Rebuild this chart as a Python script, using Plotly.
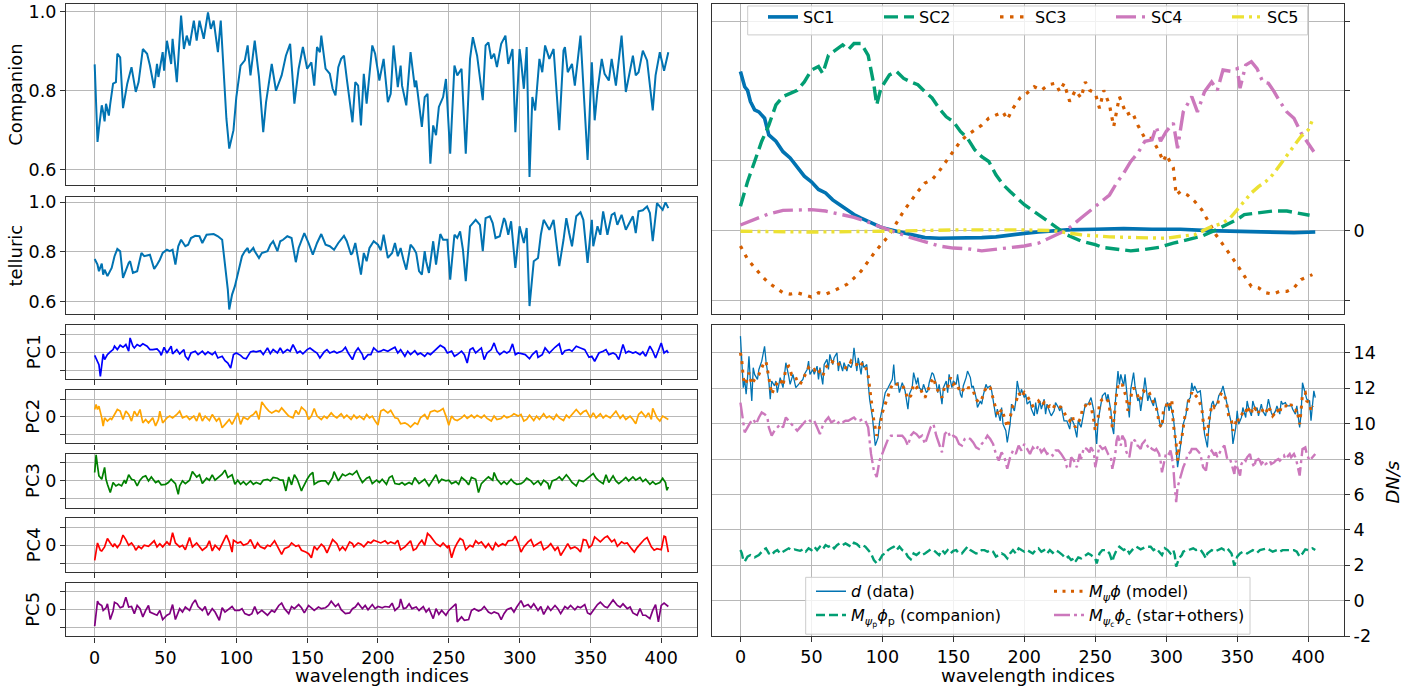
import plotly.graph_objects as go

# ---------------- data ----------------
companion_idx = [0,2,3,5,6,7,8,10,11,13,15,16,18,20,23,26,29,31,34,37,39,42,44,45,48,49,51,54,55,58,61,63,65,67,70,72,74,77,80,82,84,87,89,91,93,95,98,100,103,106,108,110,113,116,119,121,125,128,132,135,138,141,144,147,150,153,155,157,159,160,163,166,168,170,172,174,176,178,182,184,186,188,190,192,196,198,201,204,207,209,211,214,216,217,220,223,226,227,229,231,233,235,237,239,241,243,246,248,251,254,256,259,262,265,267,270,274,276,278,280,282,284,287,290,292,295,297,300,301,303,305,307,309,311,314,316,318,321,324,328,331,332,334,337,339,343,348,351,353,355,358,360,363,365,368,372,375,380,382,384,387,390,394,396,399,402,405]
companion_val = [0.867,0.670,0.704,0.763,0.746,0.722,0.767,0.737,0.767,0.818,0.822,0.894,0.885,0.756,0.818,0.860,0.797,0.822,0.906,0.894,0.864,0.807,0.868,0.835,0.898,0.851,0.927,0.868,0.932,0.822,0.991,0.906,0.940,0.915,0.978,0.927,0.978,0.932,0.999,0.957,0.978,0.898,0.978,0.839,0.729,0.653,0.700,0.784,0.864,0.877,0.915,0.839,0.927,0.835,0.695,0.771,0.868,0.800,0.839,0.889,0.919,0.767,0.856,0.911,0.856,0.872,0.813,0.911,0.898,0.940,0.856,0.843,0.805,0.788,0.860,0.881,0.889,0.830,0.720,0.822,0.813,0.712,0.843,0.767,0.915,0.894,0.826,0.881,0.771,0.792,0.915,0.809,0.864,0.813,0.763,0.898,0.809,0.826,0.759,0.708,0.784,0.792,0.615,0.712,0.687,0.759,0.784,0.830,0.640,0.864,0.839,0.856,0.640,0.881,0.936,0.889,0.776,0.915,0.923,0.881,0.894,0.860,0.919,0.940,0.868,0.906,0.695,0.906,0.877,0.805,0.911,0.581,0.784,0.750,0.881,0.847,0.915,0.881,0.906,0.700,0.902,0.911,0.847,0.868,0.813,0.940,0.624,0.872,0.725,0.800,0.881,0.843,0.826,0.881,0.813,0.940,0.797,0.889,0.839,0.847,0.902,0.877,0.750,0.839,0.898,0.851,0.898]

telluric_idx = [0,2,3,5,6,7,9,10,12,14,16,18,20,24,25,27,30,33,35,39,42,44,46,48,51,53,55,57,59,61,64,66,68,71,74,76,79,84,87,90,92,94,95,97,99,101,104,106,108,109,112,113,116,118,122,124,126,129,131,133,136,139,142,144,148,151,154,157,160,163,166,169,172,176,178,181,182,184,186,188,190,192,194,197,200,202,204,207,210,212,214,216,218,220,223,225,227,229,231,233,234,236,239,241,244,246,249,251,254,256,258,260,262,265,269,272,274,276,279,281,283,286,289,290,292,294,297,300,303,305,307,310,313,315,317,321,324,328,331,333,335,337,340,343,345,348,351,352,355,357,359,362,365,367,369,372,375,377,380,382,384,387,390,392,394,397,401,403,405]
telluric_val = [0.772,0.749,0.723,0.753,0.709,0.729,0.703,0.716,0.736,0.783,0.812,0.803,0.696,0.756,0.763,0.716,0.723,0.796,0.783,0.789,0.732,0.749,0.769,0.796,0.809,0.803,0.809,0.749,0.823,0.849,0.823,0.829,0.856,0.865,0.863,0.836,0.869,0.872,0.863,0.849,0.749,0.649,0.569,0.629,0.663,0.709,0.783,0.803,0.816,0.796,0.816,0.803,0.776,0.796,0.803,0.829,0.843,0.803,0.843,0.849,0.863,0.856,0.759,0.816,0.876,0.836,0.789,0.836,0.872,0.829,0.823,0.809,0.836,0.865,0.843,0.789,0.796,0.836,0.776,0.709,0.796,0.763,0.816,0.843,0.829,0.807,0.869,0.776,0.796,0.836,0.783,0.816,0.769,0.729,0.829,0.816,0.796,0.723,0.709,0.803,0.763,0.716,0.843,0.749,0.872,0.849,0.849,0.689,0.869,0.856,0.883,0.809,0.683,0.903,0.929,0.909,0.803,0.936,0.943,0.916,0.856,0.863,0.936,0.923,0.869,0.923,0.736,0.903,0.836,0.896,0.583,0.763,0.776,0.869,0.929,0.889,0.929,0.743,0.849,0.936,0.876,0.823,0.943,0.959,0.929,0.756,0.929,0.823,0.903,0.869,0.963,0.869,0.949,0.956,0.909,0.949,0.889,0.909,0.943,0.876,0.963,0.967,0.983,0.956,0.843,0.996,0.969,0.999,0.976]

pc1_idx = [0,1,3,4,5,6,7,9,11,13,14,16,18,20,22,24,25,27,28,30,32,34,37,39,41,44,46,47,49,51,54,55,58,60,63,64,66,68,71,73,76,78,80,83,85,87,90,92,94,96,98,100,103,105,107,110,112,114,117,119,122,124,126,129,131,133,136,138,140,143,145,147,150,152,155,157,159,162,164,166,169,171,173,175,177,179,182,184,186,189,190,193,195,197,200,202,204,207,209,212,214,216,219,221,223,226,228,230,233,235,237,240,242,244,247,249,252,254,256,259,261,263,265,267,269,272,273,275,277,280,282,284,286,289,291,293,295,297,299,302,304,307,309,312,313,316,318,321,323,325,328,330,332,335,337,340,343,346,349,351,353,356,359,361,363,366,368,370,373,375,377,380,382,385,387,389,392,394,396,398,400,402,404,405]
pc1_val = [-0.17,-0.32,-0.69,-1.35,-0.5,-0.09,-0.41,-0.13,0.02,0.15,0.34,0.15,0.39,0.28,0.43,0.06,0.8,0.34,0.24,0.43,0.34,0.47,0.34,0.15,0.15,0.19,0.02,-0.17,0.28,-0.04,0.34,-0.09,0.15,-0.09,0.15,-0.22,-0.41,-0.04,0.06,-0.13,0.06,-0.13,0.02,-0.13,0.02,-0.32,-0.22,-0.47,-0.6,-0.88,-0.13,-0.04,-0.17,-0.32,-0.36,0.02,0.06,0.02,0.09,-0.13,0.24,-0.07,0.15,-0.04,0.24,-0.04,0.15,0.06,0.43,-0.04,0.06,-0.09,0.15,0.24,0.06,-0.04,-0.32,0.02,0.15,-0.04,0.06,-0.04,0.02,0.09,0.28,-0.04,-0.41,0.02,0.24,-0.13,-0.41,-0.13,-0.13,0.24,0.02,0.06,0.15,0.06,0.15,0.28,-0.04,0.15,-0.22,0.06,-0.13,0.09,-0.13,-0.04,-0.22,-0.04,-0.13,0.09,0.24,0.39,0.24,-0.04,0.06,-0.22,-0.13,0.06,-0.13,-0.6,0.15,0.24,-0.04,0.15,0.24,-0.41,-0.04,0.15,0.52,0.06,-0.13,0.06,-0.04,0.06,0.47,-0.13,-0.04,-0.09,-0.13,-0.36,-0.13,0.09,-0.28,-0.13,0.24,-0.04,0.15,0.28,0.47,-0.13,0.09,0.15,0.06,0.34,0.24,0.15,-0.28,-0.22,-0.5,-0.04,0.06,0.15,-0.13,-0.04,-0.13,-0.41,0.43,-0.04,0.06,-0.04,0.02,-0.13,0.02,-0.22,0.34,0.06,-0.32,0.06,0.52,-0.04,0.09,-0.04]

pc2_idx = [0,1,2,3,5,6,7,9,11,12,14,16,18,20,22,24,26,28,30,32,34,36,38,41,43,45,46,48,51,53,55,58,60,62,65,67,70,72,74,76,78,81,83,86,88,90,93,95,97,100,101,103,105,108,110,112,114,116,118,121,123,125,128,130,132,135,137,140,142,144,146,149,151,153,155,157,160,162,164,167,169,171,174,176,178,181,183,185,187,190,192,194,196,198,200,202,204,207,209,212,214,216,219,221,223,226,228,230,233,235,237,240,242,244,246,248,250,252,254,256,259,261,263,266,268,270,273,275,277,280,282,284,287,289,291,294,296,299,301,303,305,307,310,312,314,317,319,321,324,326,328,331,333,335,338,340,343,345,347,350,352,354,357,359,361,364,366,368,371,373,375,378,380,382,384,386,389,391,393,394,397,399,401,403,405]
pc2_val = [0.41,0.69,0.41,0.6,-0.06,-0.52,-0.06,-0.24,-0.09,-0.15,0.13,0.41,0.32,-0.15,0.32,0.13,-0.24,0.32,0.04,0.41,-0.34,-0.15,-0.34,-0.06,-0.52,-0.15,0.32,-0.34,-0.06,0.04,-0.06,0.13,0.32,-0.06,0.04,-0.15,0.04,-0.24,0.22,-0.24,0.04,-0.21,0.13,-0.24,-0.06,-0.62,-0.34,-0.15,-0.43,0.13,0.22,-0.43,-0.02,-0.15,0.04,0.13,0.32,-0.15,0.84,0.5,0.32,0.22,0.36,0.28,0.5,0.22,0.04,-0.06,0.36,0.13,0.54,0.32,-0.15,0.04,0.47,0.04,-0.15,0.04,-0.09,0.22,0.04,-0.06,0.17,-0.06,0.09,-0.15,0.09,-0.09,0.04,-0.15,0.13,-0.06,0.04,-0.24,-0.47,0.32,0.41,0.22,0.36,-0.06,-0.09,-0.39,-0.34,-0.43,-0.58,-0.34,-0.43,-0.06,0.13,-0.15,0.28,0.36,0.28,0.36,0.47,0.04,-0.47,0.04,-0.15,-0.21,-0.06,0.09,-0.09,0.09,-0.06,0.09,-0.06,0.09,-0.09,-0.24,0.04,-0.15,-0.09,0.07,-0.06,0.04,0.17,0.04,0.13,-0.24,-0.15,0.09,-0.21,0.04,-0.15,0.17,-0.06,0.04,-0.15,0.13,-0.06,-0.21,0.09,-0.06,0.22,0.41,0.13,0.28,0.36,-0.06,0.22,-0.06,0.17,-0.06,0.09,-0.06,0.13,0.32,-0.09,0.09,-0.15,0.04,-0.15,-0.39,0.13,0.28,-0.02,0.22,-0.15,0.47,-0.06,-0.24,0.04,-0.06,-0.15]

pc3_idx = [0,1,2,3,4,5,7,8,9,10,11,13,15,17,19,21,22,24,26,28,30,32,34,36,38,40,43,45,47,50,52,54,57,59,60,62,64,67,69,72,74,76,79,81,83,85,87,90,92,94,97,99,101,103,105,107,110,112,114,117,119,122,124,126,129,131,133,135,137,139,141,143,146,147,150,152,154,155,158,160,163,165,168,169,172,174,175,177,180,182,185,187,189,192,194,196,199,201,203,206,208,210,212,215,217,219,222,224,226,229,231,233,236,238,241,243,245,248,250,252,255,257,259,262,264,266,269,271,273,276,278,281,282,284,287,289,291,294,296,298,301,303,305,308,310,313,315,317,320,321,323,326,328,330,333,335,337,340,342,345,347,349,352,354,356,359,361,363,366,368,370,373,375,377,380,382,385,387,389,392,394,396,399,401,403,404,405]
pc3_val = [0.47,1.45,0.84,0.28,0.19,0.09,0.75,0.09,-0.19,-0.37,-0.65,-0.09,-0.28,-0.19,-0.28,0.04,-0.15,0.34,0.09,0.04,-0.28,0.04,0.22,0.28,0,0.22,-0.09,0,-0.22,-0.19,-0.09,0.09,-0.15,-0.75,-0.28,0,-0.15,0.04,0.52,0.22,0.34,-0.15,0.15,0.04,0.34,0.04,0.19,0.37,0.6,0.19,0.34,-0.19,0.04,-0.19,-0.04,-0.22,0,-0.19,-0.09,-0.19,0.04,0.09,0,0.19,0.15,0.04,0.04,-0.56,0.22,-0.22,0.34,0.09,-0.56,-0.37,0.09,0.34,0.47,-0.19,-0.04,0,0,-0.19,0.19,0.52,0,0.28,0.37,0.28,0.41,0.34,0.56,0.19,-0.09,0.15,0.22,-0.15,0.04,-0.09,0.09,-0.19,0.19,0.28,-0.15,-0.19,-0.09,-0.22,-0.09,-0.19,0.19,-0.15,-0.04,0.09,-0.28,0,0.34,-0.09,0.09,0,0.04,-0.15,-0.04,-0.19,0.19,0,-0.22,0.19,0.09,-0.65,-0.15,0.09,0.22,0.04,0.47,0.09,-0.19,-0.04,-0.19,0.09,-0.09,-0.19,-0.15,-0.04,0.15,0,-0.19,0,-0.22,0.04,-0.15,-0.47,0,0.09,0.22,0.04,0.34,0.15,-0.09,-0.28,0.04,-0.04,0.09,0.19,0.41,0.15,0,-0.15,0.34,-0.09,0.28,0,-0.15,0.04,0.19,0,0.22,0.04,0.19,-0.04,0.09,-0.19,-0.04,-0.19,-0.09,0.15,-0.09,-0.52,-0.34]

pc4_idx = [0,1,2,4,5,7,9,11,13,14,16,18,20,22,24,26,28,29,31,33,35,38,40,42,44,46,48,51,53,55,57,60,62,64,67,69,72,74,76,79,81,83,85,88,90,93,95,97,98,101,103,105,108,110,113,115,117,120,122,124,127,129,132,134,137,139,142,144,146,149,151,153,155,157,160,162,164,166,168,171,173,175,177,180,182,183,186,188,190,193,195,197,200,202,205,207,209,212,214,216,219,221,223,225,227,229,231,233,235,237,239,241,244,246,249,250,252,254,256,258,260,262,265,267,269,271,273,276,278,281,283,285,288,290,292,295,297,299,301,303,306,308,310,313,315,317,320,322,325,327,329,332,334,336,339,341,343,345,347,349,351,353,355,357,360,362,365,367,369,372,374,376,379,381,383,386,388,390,393,395,397,400,402,403,405]
pc4_val = [-0.85,-0.28,0.13,-0.28,-0.32,-0.09,0.38,0.13,-0.09,0.09,-0.13,0.09,0.57,0.32,0,0.13,-0.09,-0.28,-0.06,-0.19,0,-0.06,0.09,0.25,-0.09,0.09,-0.09,0.19,0,0.7,0.13,-0.09,0,-0.25,0.43,-0.09,0.13,-0.09,-0.28,-0.09,0.25,-0.32,0,-0.25,0.09,0.57,0.19,-0.38,0.28,0.13,0.19,0,0.09,0.32,-0.19,0.13,-0.09,-0.19,0,-0.06,0.25,-0.09,-0.51,-0.19,-0.09,0.13,-0.06,0,-0.28,-0.38,-0.47,-0.7,-0.06,-0.25,0.06,-0.09,-0.43,-0.06,0.32,0.09,-0.28,-0.09,-0.28,0.19,0.09,-0.09,0.13,0.06,-0.09,0.19,0.13,0.28,0.19,0.13,0.25,0.09,0.19,0.09,0.28,-0.25,-0.09,0.09,0.25,-0.28,-0.19,0.09,0.28,0,0.66,0.51,0.28,0.09,-0.06,0.13,-0.13,0,-0.7,-0.19,0.13,0.38,0.28,-0.25,0,-0.09,0.25,0.09,0.19,-0.13,0.09,-0.28,0.13,-0.06,0.09,0,0.25,0.28,0.51,0.13,-0.38,-0.09,0.19,0.32,-0.06,0.09,0.19,-0.25,-0.09,0.09,-0.28,-0.09,-0.57,-0.19,0.09,-0.19,-0.09,-0.19,-0.38,0.32,0.28,-0.13,0,0.47,0.32,0.19,0.43,0.51,0.19,0.32,-0.06,0.19,0.09,0.13,-0.19,-0.38,-0.13,0.13,0.32,0.43,-0.09,-0.28,-0.19,-0.25,0.51,0.47,-0.38]

pc5_idx = [0,1,2,3,5,6,8,9,11,13,14,16,18,20,22,24,26,28,30,32,34,36,38,39,41,44,46,48,51,53,55,57,60,62,64,67,69,71,73,76,78,80,83,85,88,90,92,95,97,99,102,104,106,109,111,113,115,118,120,122,125,127,130,132,134,137,139,141,144,146,148,151,153,155,158,160,163,165,167,170,172,174,177,180,182,184,186,189,191,193,196,198,200,203,205,208,210,212,215,216,218,220,222,224,227,229,232,234,236,239,241,243,245,248,250,252,255,256,259,261,264,266,268,271,273,275,278,280,282,285,287,289,291,294,296,298,301,303,306,308,310,313,315,317,320,322,325,327,329,332,334,336,339,341,343,346,348,350,353,355,357,360,362,365,366,369,371,373,376,378,380,383,385,387,389,392,394,396,398,400,402,405]
pc5_val = [-0.92,-0.22,0.48,0.33,0.24,-0.04,0.11,0.33,-0.55,-0.07,0.42,0.33,0.11,0.18,0.7,0.15,0.18,-0.22,0.24,0.06,-0.4,-0.04,0.24,-0.13,-0.22,-0.31,-0.04,-0.55,-0.31,-0.22,0.29,-0.55,0.06,-0.13,0.15,-0.04,0.33,0.55,0.18,-0.04,0.18,-0.31,0.06,-0.13,-0.59,0.11,-0.13,0.06,0.18,-0.04,-0.04,0.06,-0.22,-0.31,-0.22,0.18,-0.22,-0.04,-0.18,-0.31,-0.04,-0.13,0.24,0.37,0.06,-0.22,0.18,0.06,0.29,0.11,-0.18,0.24,0.11,-0.04,0.15,0.06,0.11,0.24,0.48,0.18,0.33,0,-0.22,-0.18,0.06,0.15,0.37,0.06,0.24,0,0.29,0.06,0.18,0.11,0.18,0.15,0.37,-0.04,0.18,0.61,0.06,0.11,0.33,0.06,0.15,-0.04,0.18,-0.13,0.06,-0.5,0.06,-0.26,-0.04,-0.31,-0.04,0.11,0.33,-0.68,-0.4,-0.59,-0.55,-0.04,0.06,-0.07,0,0.18,-0.13,-0.22,-0.13,-0.22,-0.55,-0.22,0,0.11,-0.13,0.15,0.51,0.18,0.29,0.11,0.33,-0.04,0.18,-0.26,0.18,-0.04,0.24,0.06,-0.22,0.18,0.06,0.24,0,0.18,0.11,0.29,-0.18,-0.26,0.06,0.29,0.42,0.18,0.11,0.42,0.55,0.24,0.15,0.33,0.06,0.15,-0.18,-0.31,0.06,-0.31,-0.31,-0.5,-0.04,0.29,-0.68,0.24,0.37,0.18]

# spectral components (arbitrary units, ticks every 1 unit, only 0 labelled)
sc1_idx = [0,3,5,7,10,13,17,20,25,30,35,40,45,50,55,60,65,70,75,80,85,90,95,100,110,120,130,140,150,160,170,180,190,200,210,220,230,250,270,290,310,330,350,370,390,405]
sc1_val = [2.28,2.06,2.01,1.85,1.73,1.70,1.61,1.37,1.28,1.13,1.04,0.90,0.78,0.70,0.59,0.54,0.44,0.37,0.30,0.23,0.18,0.13,0.08,0.04,-0.01,-0.06,-0.10,-0.11,-0.11,-0.11,-0.10,-0.09,-0.06,-0.04,-0.02,0.0,0.01,0.02,0.03,0.02,0.02,0.0,-0.01,-0.02,-0.03,-0.02]
sc2_idx = [0,5,10,15,20,25,30,35,40,45,50,55,58,62,67,72,76,80,85,90,94,96,99,105,110,115,120,125,130,135,140,145,150,155,160,165,170,175,180,185,190,195,200,210,220,230,240,250,255,265,275,285,295,305,315,325,335,345,350,355,365,375,385,395,401]
sc2_val = [0.35,0.70,0.99,1.28,1.51,1.80,1.92,1.97,2.01,2.13,2.30,2.35,2.25,2.51,2.59,2.66,2.59,2.68,2.68,2.51,2.09,1.80,2.04,2.23,2.28,2.18,2.13,2.09,1.99,1.90,1.75,1.63,1.56,1.42,1.32,1.16,1.06,0.99,0.80,0.66,0.56,0.47,0.37,0.23,0.09,-0.06,-0.15,-0.20,-0.24,-0.27,-0.29,-0.27,-0.24,-0.18,-0.13,-0.08,0.01,0.11,0.16,0.23,0.25,0.28,0.28,0.25,0.22]
sc3_idx = [0,5,10,15,20,25,30,35,40,45,50,55,60,65,70,75,80,85,90,95,100,105,110,115,120,125,130,135,140,145,150,155,160,165,170,175,180,185,188,192,197,202,207,212,217,222,225,228,232,236,240,243,246,250,253,256,260,263,267,272,276,280,285,290,295,298,300,305,307,310,315,320,325,330,335,340,345,350,355,360,365,370,375,380,385,390,395,400,403]
sc3_val = [-0.22,-0.41,-0.53,-0.65,-0.75,-0.82,-0.89,-0.91,-0.89,-0.92,-0.95,-0.89,-0.91,-0.87,-0.82,-0.77,-0.68,-0.58,-0.44,-0.30,-0.18,-0.06,0.11,0.28,0.42,0.56,0.68,0.73,0.85,0.99,1.13,1.28,1.37,1.44,1.51,1.61,1.66,1.70,1.59,1.75,1.90,1.97,2.06,2.01,2.09,2.11,1.99,2.11,1.85,2.01,1.90,2.13,2.01,1.97,1.75,2.01,1.80,1.49,1.92,1.66,1.70,1.51,1.32,1.32,1.13,0.99,1.09,0.90,0.51,0.56,0.51,0.42,0.30,0.11,-0.06,-0.20,-0.34,-0.49,-0.65,-0.80,-0.82,-0.89,-0.91,-0.87,-0.87,-0.82,-0.70,-0.65,-0.63]
sc4_idx = [0,10,20,30,40,50,60,70,80,90,100,110,120,130,140,150,160,170,180,190,200,210,220,230,240,250,255,260,265,270,275,280,285,290,293,296,300,305,308,312,318,322,327,332,336,340,346,350,352,356,360,364,368,372,376,380,385,390,395,400,404]
sc4_val = [0.08,0.16,0.24,0.29,0.30,0.30,0.28,0.24,0.19,0.12,0.04,-0.03,-0.10,-0.16,-0.22,-0.25,-0.26,-0.29,-0.27,-0.25,-0.22,-0.18,-0.08,0.01,0.18,0.35,0.44,0.51,0.68,0.82,0.99,1.11,1.28,1.30,1.49,1.28,1.42,1.54,1.18,1.70,1.92,1.70,1.99,2.13,2.01,2.30,2.28,2.32,2.04,2.37,2.42,2.32,2.13,2.11,1.99,1.85,1.70,1.61,1.40,1.25,1.13]
sc5_idx = [0,50,100,150,200,220,240,260,280,300,310,320,330,340,345,350,355,360,365,370,375,380,385,390,395,400,404]
sc5_val = [-0.01,-0.02,-0.01,0.01,0.01,0.0,-0.06,-0.09,-0.10,-0.11,-0.08,-0.06,0.04,0.11,0.18,0.30,0.42,0.54,0.63,0.70,0.80,0.94,1.09,1.23,1.35,1.44,1.63]

# DN/s panel
data_idx = [0,1,2,3,4,5,6,7,8,9,10,12,13,15,16,17,18,20,21,22,24,25,26,28,30,31,32,34,35,37,38,39,41,42,44,45,47,48,49,51,52,54,55,56,58,59,61,62,63,65,66,68,69,70,72,73,75,76,78,79,80,82,83,85,86,87,89,90,91,93,94,95,97,98,100,101,102,104,105,107,108,109,111,112,114,115,116,118,119,121,122,124,125,126,128,129,131,132,133,135,136,138,139,140,142,143,145,146,147,149,150,152,153,155,156,157,159,160,162,163,164,166,167,169,170,171,173,174,176,177,178,180,181,183,184,185,187,188,190,191,193,194,195,197,198,200,201,202,204,205,207,208,209,211,212,214,215,216,218,219,221,222,224,225,226,228,230,232,233,235,237,238,240,242,243,245,247,249,250,251,252,254,255,257,258,259,261,262,263,264,265,266,267,268,270,271,273,274,275,277,278,280,281,282,284,285,287,288,289,291,292,294,295,296,298,299,301,302,303,305,306,307,308,309,310,311,312,314,315,317,318,319,320,322,324,325,326,327,329,330,332,333,334,336,337,339,340,341,343,344,346,347,349,350,351,353,354,356,357,358,360,361,363,364,365,367,368,370,371,372,374,375,377,378,380,381,382,384,385,387,388,389,391,392,394,395,396,398,399,401,402,404,405]
data_val = [14.94,13.35,12.03,12.5,11.66,12.6,13.81,12.41,11.28,13.16,12.78,12.5,13.06,13.53,14.0,14.37,13.53,12.41,11.38,12.41,12.13,12.41,11.75,12.6,12.03,12.97,13.44,12.69,12.22,12.78,12.41,12.03,12.22,12.31,12.5,12.78,13.06,13.53,12.78,13.06,12.78,13.25,12.5,13.16,12.22,13.34,13.63,13.06,13.91,13.34,13.72,14.0,12.97,13.53,12.97,13.44,12.97,13.34,13.16,13.44,14.28,12.97,13.72,12.78,13.53,13.16,13.34,12.31,11.38,10.35,9.41,8.76,9.22,10.07,10.91,11.38,11.75,12.03,12.22,12.5,13.34,12.22,12.31,11.75,12.31,12.03,11.85,10.82,11.66,12.03,12.88,12.22,12.6,12.03,11.85,12.22,11.75,11.85,12.31,12.88,12.78,12.22,11.75,12.22,11.1,12.03,12.41,11.75,12.78,12.03,12.41,12.22,12.78,11.66,11.47,12.13,12.6,12.97,12.6,12.03,12.13,11.47,10.91,11.28,11.1,11.57,12.22,12.03,12.13,11.85,11.28,10.35,10.82,10.16,10.91,9.97,9.6,8.94,9.97,11.1,10.72,11.28,12.41,11.57,11.94,11.47,11.66,11.1,11.28,10.82,10.44,11.19,10.54,11.28,10.82,11.38,10.54,11.1,10.63,10.44,10.72,11.19,10.91,10.72,11.0,10.16,10.16,9.69,10.35,9.97,9.22,10.16,9.79,10.72,11.1,11.1,11.47,10.72,9.69,8.85,10.16,11.1,11.57,11.75,11.28,11.66,10.72,9.79,9.41,11.1,12.31,12.97,12.22,12.78,12.13,12.78,11.1,10.35,11.94,12.88,12.13,11.28,11.47,10.72,11.85,12.6,11.28,11.66,11.38,11.0,11.47,10.63,10.25,9.79,10.16,10.91,11.19,10.72,11.1,10.35,9.6,8.29,7.54,8.1,8.85,9.41,9.97,10.54,11.28,11.47,12.31,11.85,12.13,11.75,11.85,11.1,10.16,9.41,8.66,9.79,11.1,11.28,10.91,11.19,11.57,11.85,12.13,11.75,11.1,10.54,9.97,8.85,9.79,10.72,9.97,10.35,10.91,10.35,11.28,10.91,10.44,11.28,10.72,10.91,10.44,11.1,10.72,10.44,10.82,11.38,10.63,10.44,10.72,11.0,10.54,11.28,11.1,11.19,11.0,11.0,11.1,10.82,10.54,11.0,9.79,10.54,12.31,11.75,11.38,11.28,10.16,11.85,11.47]

model_idx = [0,1,2,3,4,6,8,10,13,16,18,20,22,24,26,28,30,32,34,36,38,40,42,44,46,48,50,52,54,56,58,60,62,64,66,68,70,72,74,76,78,80,82,84,86,88,90,92,94,96,98,100,102,104,106,108,110,112,114,116,118,120,122,124,126,128,130,132,134,136,138,140,142,144,146,148,150,152,154,156,158,160,162,164,166,168,170,172,174,176,178,180,182,184,186,188,190,192,194,196,198,200,202,204,206,208,210,212,214,216,218,220,222,224,226,228,230,232,234,235,236,238,240,241,243,245,247,249,250,252,253,255,257,259,260,262,263,265,266,267,269,270,272,273,274,276,277,279,280,281,283,284,286,287,288,290,291,293,294,295,297,298,300,301,303,304,305,307,308,309,311,312,313,315,316,318,319,320,322,323,325,326,327,329,330,332,333,334,336,337,339,340,342,343,344,346,347,349,350,351,353,354,356,357,358,360,361,363,364,365,367,368,370,371,372,374,375,377,378,380,381,382,384,385,387,388,389,391,392,394,395,396,398,399,401,402,403]
model_val = [14.0,13.53,12.6,12.22,12.31,12.88,12.22,12.5,12.78,13.34,13.53,12.5,11.66,12.03,12.31,12.5,12.13,13.16,13.25,12.78,12.78,12.41,12.22,12.5,12.88,13.16,12.97,13.06,12.78,12.97,12.69,13.16,13.34,13.53,13.44,13.53,13.25,13.16,13.16,13.16,13.53,13.34,13.34,13.16,13.44,13.25,12.69,11.28,10.16,9.32,9.79,10.63,11.1,11.66,12.03,12.31,12.22,12.22,12.22,11.85,11.38,11.57,12.22,12.03,12.13,11.75,11.47,11.85,12.31,12.6,12.03,11.75,11.47,12.13,12.03,12.6,12.22,12.31,11.94,11.75,12.13,12.03,12.03,11.85,11.38,11.19,11.38,11.85,12.13,12.03,11.38,10.82,10.44,10.82,10.35,9.79,10.35,11.0,11.19,11.75,11.47,11.75,11.57,11.28,11.0,11.1,11.28,11.0,11.19,10.91,11.0,10.82,11.1,11.0,10.91,10.63,10.35,10.16,10.44,9.97,9.79,10.07,10.35,10.91,11.0,11.28,11.0,10.16,9.6,10.35,11.19,11.38,11.47,11.28,10.91,9.79,10.16,11.66,12.13,12.03,12.22,11.94,11.47,10.72,11.1,11.85,12.03,11.75,11.57,11.28,11.57,11.85,11.75,11.85,11.75,11.38,11.19,10.91,10.54,9.97,9.79,10.72,11.0,11.28,11.0,11.28,9.97,8.85,7.91,8.66,9.22,9.79,10.35,10.91,11.38,11.75,11.57,11.66,11.47,11.28,10.91,10.16,9.69,9.32,10.16,11.0,11.1,10.91,11.0,11.38,11.75,11.75,11.38,10.91,10.44,10.16,9.6,10.07,10.35,10.16,10.54,10.63,10.54,11.0,10.82,10.54,11.0,10.82,10.91,10.63,10.91,10.72,10.54,10.82,11.0,10.63,10.44,10.63,10.82,10.54,11.0,11.0,11.0,11.0,10.91,11.1,10.82,10.72,10.82,9.97,10.72,11.66,11.75,11.28,11.19,10.72,11.0]

star_idx = [0,1,2,3,5,7,9,11,13,15,17,19,20,22,24,26,28,30,32,34,36,38,40,42,44,46,48,50,52,54,56,58,60,62,64,66,68,70,72,74,76,78,80,82,84,86,88,90,92,94,96,98,100,102,104,106,108,110,112,114,116,118,120,122,124,126,128,130,132,134,136,138,140,142,144,146,148,150,152,154,156,158,160,162,164,166,168,170,172,174,176,178,180,182,184,186,188,190,192,194,196,198,200,202,204,206,208,210,212,214,216,218,220,222,224,226,229,230,232,233,235,237,239,240,242,244,246,247,249,250,252,253,255,257,259,261,262,264,265,266,268,269,271,272,274,275,276,278,279,280,282,283,285,286,288,289,290,292,293,295,296,297,299,300,302,303,304,305,306,307,308,310,311,312,314,315,317,318,320,321,322,324,325,326,328,329,331,332,334,335,336,338,339,341,342,343,345,346,348,349,350,352,353,355,356,357,359,360,362,363,365,366,367,369,370,372,373,374,376,377,379,380,382,383,384,386,387,388,390,391,392,394,395,396,398,399,401,402,404,405]
star_val = [11.19,10.54,10.16,9.51,9.79,10.07,10.26,9.97,10.35,10.63,10.54,10.35,9.79,9.32,9.6,9.79,9.97,9.79,10.35,10.16,9.97,9.79,9.6,9.79,9.97,10.16,10.26,10.07,10.16,9.79,9.41,9.88,10.16,10.35,10.07,10.16,9.97,10.16,10.07,10.16,10.16,10.26,10.35,10.16,10.16,10.26,10.16,9.79,8.29,7.35,6.98,7.91,8.29,8.66,9.13,9.32,9.32,9.32,9.32,9.32,9.13,8.76,9.32,9.51,9.41,9.22,9.32,8.85,9.32,9.79,9.97,9.32,8.85,8.38,9.41,9.6,9.22,9.32,9.22,8.85,8.76,9.13,9.22,9.13,8.94,8.66,8.57,8.85,9.04,9.32,9.13,8.85,8.29,7.91,8.38,8.1,7.45,8.1,8.48,8.29,8.76,8.48,8.85,8.57,8.29,8.66,8.48,8.76,8.38,8.57,8.29,8.38,8.2,8.48,8.48,8.29,7.91,7.54,7.45,8.1,7.91,7.54,8.29,8.0,8.66,8.57,8.38,8.66,8.38,7.54,8.29,8.76,8.57,8.66,8.29,8.1,7.45,8.2,9.04,9.32,8.76,9.32,9.04,8.38,8.1,8.57,9.13,9.04,8.76,8.76,8.57,8.85,9.04,8.85,8.57,8.66,8.57,8.48,8.57,8.29,7.91,7.25,8.1,8.38,8.29,8.48,8.1,7.54,6.41,5.57,6.41,6.98,7.35,7.54,7.91,8.29,8.38,8.57,8.57,8.57,8.48,8.29,7.91,7.54,7.35,7.91,8.38,8.48,8.2,8.38,8.1,8.38,8.57,8.76,8.29,8.0,8.0,7.72,7.16,7.91,7.54,7.07,7.72,8.0,7.91,8.1,8.29,7.91,7.54,7.91,8.0,7.91,7.72,7.91,7.72,7.81,7.91,7.72,7.81,7.91,8.0,7.91,8.1,8.2,8.0,8.2,8.29,8.1,8.29,8.1,7.81,7.07,8.0,8.57,8.66,8.29,7.91,8.0,8.2,8.29]

comp_idx = [0,1,2,3,5,7,10,13,16,18,20,22,24,26,28,30,32,34,36,38,40,42,44,46,48,50,52,54,56,58,60,62,64,66,68,70,72,74,76,78,80,82,84,86,88,90,92,94,96,98,100,102,104,106,108,110,112,114,116,118,120,122,124,126,128,130,132,134,136,138,140,142,144,146,148,150,152,154,156,158,160,162,164,166,168,170,172,174,176,178,180,182,184,186,188,190,192,194,196,198,200,202,204,206,208,210,212,214,216,218,220,222,224,226,227,229,231,233,235,236,238,240,243,245,247,250,251,253,255,258,260,262,263,265,267,270,272,274,277,279,282,284,286,289,291,293,296,297,299,301,303,305,306,307,309,311,312,314,317,319,321,324,326,328,329,332,334,336,339,341,343,346,348,350,352,354,357,359,361,364,366,368,371,373,375,378,380,382,385,387,390,392,394,396,398,400,403,405]
comp_val = [2.86,2.67,2.3,2.21,2.49,2.58,2.45,2.58,2.86,2.96,2.67,2.58,2.77,2.86,2.67,2.77,2.9,2.96,2.86,2.9,2.86,2.82,2.9,2.77,2.96,2.86,3.05,2.86,3.05,2.9,3.14,3.05,3.14,2.96,3.14,3.24,3.14,3.24,3.14,3.05,3.27,3.2,3.05,3.14,3.05,2.86,2.67,2.3,2.11,2.3,2.58,2.67,2.86,2.96,3.05,2.86,3.05,2.86,2.77,2.49,2.34,2.67,2.58,2.71,2.58,2.67,2.77,2.9,2.86,2.71,2.58,2.86,2.67,2.86,2.67,2.82,2.86,2.67,2.67,2.86,3.05,2.86,2.77,2.67,2.71,2.86,2.86,2.77,2.86,2.77,2.49,2.58,2.67,2.58,2.39,2.67,2.86,2.67,2.96,2.86,2.77,2.86,2.77,2.67,2.86,2.96,2.77,2.86,2.67,2.86,2.71,2.86,2.77,2.67,2.58,2.39,2.49,2.3,2.39,2.21,2.45,2.39,2.58,2.67,2.58,2.39,2.11,2.67,2.86,2.86,2.67,2.21,2.49,2.86,3.05,2.86,2.96,2.67,2.96,3.05,2.9,2.96,3.05,3.05,2.86,2.96,2.67,2.58,2.96,2.86,2.67,2.86,2.58,1.93,2.39,2.58,2.77,2.86,2.9,2.96,2.86,2.9,2.67,2.39,2.67,2.86,2.77,2.86,2.96,2.86,2.96,2.67,1.98,2.49,2.67,2.77,2.67,2.77,2.86,2.71,2.86,2.9,2.96,2.86,2.77,2.86,2.77,2.86,2.86,2.9,2.86,2.77,2.49,2.67,2.9,2.86,2.96,2.86]

x_ticks = [0, 50, 100, 150, 200, 250, 300, 350, 400]
left_labels = ["Companion", "telluric", "PC1", "PC2", "PC3", "PC4", "PC5"]
sc_names = ["SC1", "SC2", "SC3", "SC4", "SC5"]
dn_ticks = [-2, 0, 2, 4, 6, 8, 10, 12, 14]

for a, b in [(companion_idx, companion_val), (telluric_idx, telluric_val), (pc1_idx, pc1_val),
             (pc2_idx, pc2_val), (pc3_idx, pc3_val), (pc4_idx, pc4_val), (pc5_idx, pc5_val),
             (sc1_idx, sc1_val), (sc2_idx, sc2_val), (sc3_idx, sc3_val), (sc4_idx, sc4_val),
             (sc5_idx, sc5_val), (data_idx, data_val), (model_idx, model_val),
             (star_idx, star_val), (comp_idx, comp_val)]:
    assert len(a) == len(b), (len(a), len(b))

# ---------------- layout helpers ----------------
W, H = 1422, 689
FONT = "DejaVu Sans"
def fx(px): return px / W
def fy(py): return 1 - py / H

LEFT_DOM = [fx(66), fx(697)]
RIGHT_DOM = [fx(711.7), fx(1344)]
left_rows = [(2, 184), (195.7, 313), (324.3, 378.3), (389.3, 442.7), (453.3, 507.3), (518, 571.7), (582.7, 636.3)]
XR = [-20.25, 425.25]
GRID = "#b8b8b8"
AX = "#333333"

axis_style = dict(showline=True, mirror=True, linecolor=AX, linewidth=1.2,
                  showgrid=True, gridcolor=GRID, gridwidth=1, zeroline=False,
                  ticks="outside", ticklen=5, tickwidth=1.1, tickcolor=AX,
                  tickfont=dict(family=FONT, size=17.5, color="black"))
minor_style = dict(ticks="outside", ticklen=5, tickwidth=1.1, tickcolor=AX,
                   showgrid=True, gridcolor=GRID, gridwidth=1)

fig = go.Figure()
layout = dict(width=W, height=H, margin=dict(l=0, r=0, t=0, b=0), template="none",
              paper_bgcolor="white", plot_bgcolor="white", font=dict(family=FONT, color="black"))

left_y = [
    dict(range=[0.5595, 1.0203], tickvals=[0.6, 0.8, 1.0], ticktext=["0.6", "0.8", "1.0"]),
    dict(range=[0.5508, 1.02], tickvals=[0.6, 0.8, 1.0], ticktext=["0.6", "0.8", "1.0"]),
] + [dict(range=[-1.5, 1.5], tickvals=[0], ticktext=["0"], minor=dict(minor_style, tickvals=[-1, 1]))
     for _ in range(5)]

for i, (top, bot) in enumerate(left_rows):
    n = i + 1
    xk = "xaxis" if n == 1 else f"xaxis{n}"
    yk = "yaxis" if n == 1 else f"yaxis{n}"
    ref = "" if n == 1 else str(n)
    layout[xk] = dict(axis_style, domain=LEFT_DOM, anchor=f"y{ref}", range=XR, tickvals=x_ticks,
                      showticklabels=(n == 7))
    layout[yk] = dict(axis_style, domain=[fy(bot), fy(top)], anchor=f"x{ref}", **left_y[i])

layout["xaxis8"] = dict(axis_style, domain=RIGHT_DOM, anchor="y8", range=XR, tickvals=x_ticks, showticklabels=False)
layout["yaxis8"] = dict(axis_style, domain=[fy(313.3), fy(1.7)], anchor="x8", side="right",
                        range=[-1.2, 3.25], tickvals=[0], ticktext=["0"],
                        minor=dict(minor_style, tickvals=[-1, 1, 2, 3]))
layout["xaxis9"] = dict(axis_style, domain=RIGHT_DOM, anchor="y9", range=XR, tickvals=x_ticks, showticklabels=True)
layout["yaxis9"] = dict(axis_style, domain=[fy(636), fy(324.3)], anchor="x9", side="right",
                        range=[-2, 15.55], tickvals=dn_ticks, ticktext=[str(t) for t in dn_ticks])

def line(x, y, ax, color, width, dash="solid", name=None, legend=None):
    fig.add_trace(go.Scatter(x=x, y=y, mode="lines", xaxis=f"x{ax}" if ax > 1 else "x",
                             yaxis=f"y{ax}" if ax > 1 else "y",
                             line=dict(color=color, width=width, dash=dash),
                             name=name, showlegend=name is not None,
                             legend=legend if legend else "legend", hoverinfo="skip"))

line(companion_idx, companion_val, 1, "#0173b2", 2)
line(telluric_idx, telluric_val, 2, "#0173b2", 2)
for k, (xi, yi, c) in enumerate([(pc1_idx, pc1_val, "blue"), (pc2_idx, pc2_val, "orange"),
                                 (pc3_idx, pc3_val, "green"), (pc4_idx, pc4_val, "red"),
                                 (pc5_idx, pc5_val, "purple")]):
    line(xi, yi, 3 + k, c, 1.7)

sc_style = [("#0173b2", 3.6, "solid"), ("#029e73", 3.4, "14px,6px"), ("#d55e00", 3.2, "3.5px,6.5px"),
            ("#cc78bc", 3.4, "20px,6px,3px,6px"), ("#ece133", 3.4, "12px,5px,3px,5px,3px,5px")]
for (xi, yi), nm, (c, w, d) in zip([(sc1_idx, sc1_val), (sc2_idx, sc2_val), (sc3_idx, sc3_val),
                                    (sc4_idx, sc4_val), (sc5_idx, sc5_val)], sc_names, sc_style):
    line(xi, yi, 8, c, w, d, name=nm, legend="legend")

line(data_idx, data_val, 9, "#0173b2", 1.3, "solid", name="<i>d</i> (data)", legend="legend2")
line(comp_idx, comp_val, 9, "#029e73", 2.4, "9px,4px",
     name="<i>M</i><sub><i>ψ</i><sub>p</sub></sub><i>ϕ</i><sub>p</sub> (companion)", legend="legend2")
line(model_idx, model_val, 9, "#d55e00", 3.0, "3px,5.5px",
     name="<i>M</i><sub><i>ψ</i></sub><i>ϕ</i> (model)", legend="legend3")
line(star_idx, star_val, 9, "#cc78bc", 2.4, "16px,4px,3px,4px",
     name="<i>M</i><sub><i>ψ</i><sub>c</sub></sub><i>ϕ</i><sub>c</sub> (star+others)", legend="legend3")

layout["legend"] = dict(orientation="h", x=fx(763), y=fy(-2), xanchor="left", yanchor="top",
                        bgcolor="rgba(0,0,0,0)", borderwidth=0,
                        font=dict(family=FONT, size=16), entrywidth=71, entrywidthmode="pixels",
                        traceorder="normal")
layout["legend2"] = dict(orientation="v", x=fx(811), y=fy(574), xanchor="left", yanchor="top",
                         bgcolor="rgba(0,0,0,0)", borderwidth=0, font=dict(family=FONT, size=16),
                         traceorder="normal", tracegroupgap=0)
layout["legend3"] = dict(orientation="v", x=fx(1049), y=fy(574), xanchor="left", yanchor="top",
                         bgcolor="rgba(0,0,0,0)", borderwidth=0, font=dict(family=FONT, size=16),
                         traceorder="normal", tracegroupgap=0)
layout["shapes"] = [
    dict(type="rect", xref="paper", yref="paper", x0=fx(747.7), x1=fx(1307.7), y0=fy(33), y1=fy(4),
         fillcolor="rgba(255,255,255,0.8)", line=dict(color="#cccccc", width=1), layer="above"),
    dict(type="rect", xref="paper", yref="paper", x0=fx(805.7), x1=fx(1250), y0=fy(634), y1=fy(577),
         fillcolor="rgba(255,255,255,0.8)", line=dict(color="#cccccc", width=1), layer="above"),
]

ann = []
ycent = [(t + b) / 2 for t, b in left_rows]
for i, lab in enumerate(left_labels):
    ann.append(dict(text=lab, x=fx(16 if i < 2 else 33), y=fy(ycent[i]), xref="paper", yref="paper",
                    textangle=-90, showarrow=False, xanchor="center", yanchor="middle",
                    font=dict(family=FONT, size=18, color="black")))
for dom in (LEFT_DOM, RIGHT_DOM):
    ann.append(dict(text="wavelength indices", x=(dom[0] + dom[1]) / 2, y=fy(675), xref="paper",
                    yref="paper", showarrow=False, xanchor="center", yanchor="middle",
                    font=dict(family=FONT, size=18, color="black")))
ann.append(dict(text="<i>DN/s</i>", x=fx(1393), y=fy(482), xref="paper", yref="paper", textangle=-90,
                showarrow=False, xanchor="center", yanchor="middle",
                font=dict(family=FONT, size=18, color="black")))
layout["annotations"] = ann

fig.update_layout(**layout)
fig.write_html("out.html", config={"displayModeBar": False, "staticPlot": False},
               post_script="document.body.style.margin='0px';document.body.style.overflow='hidden';")
